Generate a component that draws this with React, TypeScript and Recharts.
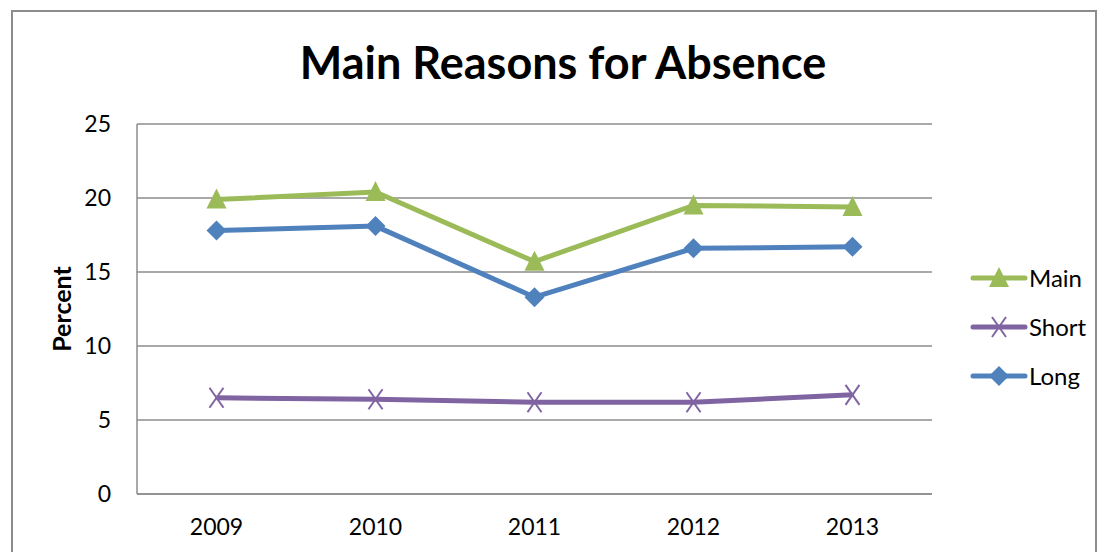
import { LineChart, Line, XAxis, YAxis, CartesianGrid } from "recharts";

const years = ["2009", "2010", "2011", "2012", "2013"];
const mainValues = [19.9, 20.4, 15.7, 19.5, 19.4];
const shortValues = [6.5, 6.4, 6.2, 6.2, 6.7];
const longValues = [17.8, 18.1, 13.3, 16.6, 16.7];
const yTicks = [0, 5, 10, 15, 20, 25];

const GREEN = "#9BBB59";
const PURPLE = "#8064A2";
const BLUE = "#4F81BD";
const GRID = "#8c8c8c";
const FONT = "Lato, 'Open Sans', sans-serif";

const data = years.map((year, i) => ({
  year,
  Main: mainValues[i],
  Short: shortValues[i],
  Long: longValues[i],
}));

function Triangle(props: any) {
  const { cx, cy } = props;
  if (cx == null || cy == null) return null;
  return (
    <polygon
      points={`${cx},${cy - 11} ${cx - 10},${cy + 9} ${cx + 10},${cy + 9}`}
      fill={GREEN}
    />
  );
}

function Diamond(props: any) {
  const { cx, cy } = props;
  if (cx == null || cy == null) return null;
  return (
    <polygon
      points={`${cx},${cy - 10} ${cx + 10},${cy} ${cx},${cy + 10} ${cx - 10},${cy}`}
      fill={BLUE}
    />
  );
}

function Cross(props: any) {
  const { cx, cy } = props;
  if (cx == null || cy == null) return null;
  return (
    <g stroke={PURPLE} strokeWidth={2}>
      <line x1={cx - 7} y1={cy - 10} x2={cx + 7} y2={cy + 10} />
      <line x1={cx + 7} y1={cy - 10} x2={cx - 7} y2={cy + 10} />
    </g>
  );
}

const legendItems = [
  { name: "Main", color: GREEN, Marker: Triangle },
  { name: "Short", color: PURPLE, Marker: Cross },
  { name: "Long", color: BLUE, Marker: Diamond },
];

function LegendBox() {
  return (
    <div style={{ fontFamily: FONT }}>
      {legendItems.map(({ name, color, Marker }) => (
        <div
          key={name}
          style={{ display: "flex", alignItems: "center", height: 49 }}
        >
          <svg width={58} height={24}>
            <line
              x1={3}
              y1={12}
              x2={55}
              y2={12}
              stroke={color}
              strokeWidth={5}
              strokeLinecap="round"
            />
            <Marker cx={29} cy={12} />
          </svg>
          <span style={{ fontSize: 24, color: "#000", marginLeft: 1 }}>
            {name}
          </span>
        </div>
      ))}
    </div>
  );
}

function PercentLabel(props: any) {
  const { viewBox } = props;
  const y = viewBox.y + viewBox.height / 2;
  return (
    <text
      x={71}
      y={y}
      transform={`rotate(-90, 71, ${y})`}
      textAnchor="middle"
      fontFamily={FONT}
      fontWeight="bold"
      fontSize={25}
      fill="#000"
    >
      Percent
    </text>
  );
}

export default function App() {
  return (
    <div
      style={{
        position: "absolute",
        left: 0,
        top: 0,
        width: 1101,
        height: 552,
        background: "#fff",
        overflow: "hidden",
      }}
    >
      <div
        style={{
          position: "absolute",
          left: 11,
          top: 10,
          width: 1082,
          height: 580,
          border: `2px solid ${GRID}`,
        }}
      />
      <div
        style={{
          position: "absolute",
          left: 0,
          top: 34,
          width: 1126,
          textAlign: "center",
          fontFamily: FONT,
          fontWeight: "bold",
          fontSize: 45,
          lineHeight: "56px",
          color: "#000",
        }}
      >
        Main Reasons for Absence
      </div>
      <div style={{ position: "absolute", left: 0, top: 0 }}>
        <LineChart
          width={1101}
          height={552}
          data={data}
          margin={{ top: 124, right: 169, bottom: 28, left: 0 }}
        >
          <CartesianGrid
            vertical={false}
            stroke={GRID}
            strokeWidth={1.5}
          />
          <XAxis
            dataKey="year"
            height={30}
            padding={{ left: 79.5, right: 79.5 }}
            stroke={GRID}
            strokeWidth={1.5}
            tickLine={false}
            tickSize={0}
            tickMargin={25}
            tick={{ fontSize: 23, fill: "#000", fontFamily: FONT }}
          />
          <YAxis
            width={137}
            domain={[0, 25]}
            ticks={yTicks}
            stroke={GRID}
            strokeWidth={1.5}
            tickLine={false}
            tickSize={0}
            tickMargin={26}
            tick={{ fontSize: 23, fill: "#000", fontFamily: FONT }}
            label={<PercentLabel />}
          />
          <Line
            dataKey="Main"
            stroke={GREEN}
            strokeWidth={5}
            dot={<Triangle />}
            activeDot={false}
            isAnimationActive={false}
          />
          <Line
            dataKey="Short"
            stroke={PURPLE}
            strokeWidth={5}
            dot={<Cross />}
            activeDot={false}
            isAnimationActive={false}
          />
          <Line
            dataKey="Long"
            stroke={BLUE}
            strokeWidth={5}
            dot={<Diamond />}
            activeDot={false}
            isAnimationActive={false}
          />
        </LineChart>
      </div>
      <div style={{ position: "absolute", left: 970, top: 253 }}>
        <LegendBox />
      </div>
    </div>
  );
}
